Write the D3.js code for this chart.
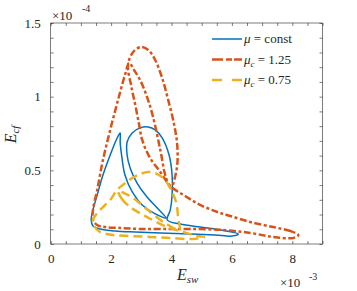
<!DOCTYPE html>
<html>
<head>
<meta charset="utf-8">
<script src="https://cdn.jsdelivr.net/npm/d3@7/dist/d3.min.js"></script>
<style>
	body { margin: 0; background: #fff; }
	svg, svg text { font-family: "Liberation Serif", "Times New Roman", "DejaVu Serif", serif; }
	svg text { fill: #262626; }
</style>
</head>
<body>
<svg id="loops" width="357" height="291" font-family="Liberation Serif, serif"></svg>
<script>
// E_sw in units of 1e-3, E_cf in units of 1e-4
var legendLabels = ["const", "1.25", "0.75"];

var blueEsw = [6.21, 5.62, 4.95, 4.29, 3.86, 3.96, 4.02, 4.02, 3.92, 3.69, 3.46, 3.23, 2.96, 2.70, 2.53, 2.53, 2.63, 2.86, 3.19, 3.53, 3.82, 3.46, 3.03, 2.70, 2.46, 2.36, 2.30, 2.30, 2.17, 1.97, 1.73, 1.54, 1.40, 1.34, 1.40, 1.64, 2.13, 2.80, 3.63, 4.62, 5.45, 6.01];
var blueEcf = [0.068, 0.095, 0.115, 0.136, 0.163, 0.231, 0.333, 0.468, 0.604, 0.720, 0.774, 0.794, 0.788, 0.754, 0.692, 0.604, 0.516, 0.414, 0.319, 0.244, 0.177, 0.204, 0.265, 0.353, 0.468, 0.584, 0.692, 0.754, 0.706, 0.604, 0.468, 0.333, 0.231, 0.163, 0.122, 0.102, 0.088, 0.081, 0.075, 0.068, 0.061, 0.054];

var redEsw = [8.20, 7.94, 7.37, 6.61, 5.95, 5.52, 4.95, 4.45, 3.96, 3.63, 3.29, 3.03, 2.93, 2.80, 2.66, 2.56, 2.73, 2.99, 3.23, 3.46, 3.69, 3.89, 4.09, 4.19, 4.19, 4.09, 3.99, 3.82, 3.63, 3.39, 3.19, 2.96, 2.76, 2.60, 2.46, 2.23, 1.97, 1.73, 1.54, 1.40, 1.40, 1.54, 1.80, 2.30, 2.96, 3.72, 4.62, 5.71, 6.61, 7.37, 8.04];
var redEcf = [0.061, 0.088, 0.115, 0.149, 0.190, 0.217, 0.265, 0.326, 0.394, 0.489, 0.584, 0.706, 0.808, 0.944, 1.079, 1.215, 1.303, 1.337, 1.317, 1.249, 1.127, 0.978, 0.808, 0.672, 0.536, 0.434, 0.380, 0.448, 0.638, 0.862, 0.998, 1.113, 1.181, 1.229, 1.147, 0.978, 0.774, 0.570, 0.367, 0.231, 0.163, 0.129, 0.115, 0.109, 0.102, 0.102, 0.102, 0.095, 0.075, 0.048, 0.041];

var yellowEsw = [2.23, 2.36, 2.63, 3.19, 3.86, 4.39, 4.85, 5.08, 4.72, 3.96, 3.29, 2.63, 2.07, 1.64, 1.44, 1.40, 1.54, 1.73, 1.97, 2.20, 2.43, 2.70, 2.96, 3.23, 3.53, 3.79, 3.99, 4.16, 4.22, 4.26, 3.89, 3.46, 3.06, 2.73, 2.43];
var yellowEcf = [0.360, 0.306, 0.251, 0.183, 0.115, 0.081, 0.054, 0.048, 0.034, 0.041, 0.048, 0.054, 0.061, 0.081, 0.122, 0.163, 0.210, 0.251, 0.299, 0.367, 0.407, 0.448, 0.475, 0.489, 0.475, 0.434, 0.367, 0.278, 0.177, 0.095, 0.129, 0.190, 0.258, 0.312, 0.346];

var xTickLabels = [0, 2, 4, 6, 8];
var yTickLabels = [0, 0.5, 1, 1.5];

var svg = d3.select("#loops"),
	margin = {top: 23, left: 50.7, bottom: 47, right: 34.5},
	width = +svg.attr("width"),
	height = +svg.attr("height"),
	serif = "Liberation Serif, Times New Roman, DejaVu Serif, serif";

svg.append("rect").attr("width", width).attr("height", height).attr("fill", "#fff");

var x = d3.scaleLinear()
	.domain([0, 9])
	.range([margin.left, width - margin.right]);

var y = d3.scaleLinear()
	.domain([0, 1.5])
	.range([height - margin.bottom, margin.top]);

var xTicks = d3.range(0, 19).map(i => i / 2),
	yTicks = d3.range(0, 16).map(i => i / 10);

function styleAxis(g) {
	g.attr("color", "#262626")
		.attr("font-size", 13)
		.attr("font-family", serif);
	g.select(".domain").remove();
	g.selectAll(".tick line").attr("stroke-width", 0.6);
	g.selectAll(".tick text").attr("font-family", serif);
}

svg.append("g")
	.attr("transform", `translate(0,${y(0)})`)
	.call(d3.axisBottom(x).tickValues(xTicks).tickSizeInner(-3).tickSizeOuter(0).tickPadding(10)
		.tickFormat(d => xTickLabels.includes(d) ? d : ""))
	.call(styleAxis);

svg.append("g")
	.attr("transform", `translate(0,${y(1.5)})`)
	.call(d3.axisTop(x).tickValues(xTicks).tickSizeInner(-3).tickSizeOuter(0).tickFormat(""))
	.call(styleAxis);

svg.append("g")
	.attr("transform", `translate(${x(0)},0)`)
	.call(d3.axisLeft(y).tickValues(yTicks).tickSizeInner(-3).tickSizeOuter(0).tickPadding(10)
		.tickFormat(d => yTickLabels.includes(d) ? d : ""))
	.call(styleAxis);

svg.append("g")
	.attr("transform", `translate(${x(9)},0)`)
	.call(d3.axisRight(y).tickValues(yTicks).tickSizeInner(-3).tickSizeOuter(0).tickFormat(""))
	.call(styleAxis);

svg.append("rect")
	.attr("x", x(0))
	.attr("y", y(1.5))
	.attr("width", x(9) - x(0))
	.attr("height", y(0) - y(1.5))
	.attr("fill", "none")
	.attr("stroke", "#262626")
	.attr("stroke-width", 0.6);

var series = [
	{key: "blue", esw: blueEsw, ecf: blueEcf, color: "#0072BD", width: 1.5, dash: null},
	{key: "red", esw: redEsw, ecf: redEcf, color: "#D95319", width: 2.5, dash: "7,2.5,3,2.5"},
	{key: "yellow", esw: yellowEsw, ecf: yellowEcf, color: "#EDB120", width: 2.5, dash: "9,5"}
];

var line = d3.line()
	.x(d => x(d[0]))
	.y(d => y(d[1]))
	.curve(d3.curveCatmullRomClosed.alpha(0.5));

svg.append("g")
	.selectAll("path")
	.data(series)
	.enter().append("path")
	.attr("d", d => line(d3.zip(d.esw, d.ecf)))
	.attr("fill", "none")
	.attr("stroke", d => d.color)
	.attr("stroke-width", d => d.width)
	.attr("stroke-dasharray", d => d.dash)
	.attr("stroke-linejoin", "round");

// legend (no box)
var legend = svg.append("g")
	.selectAll("g")
	.data(series)
	.enter().append("g")
	.attr("transform", (d, i) => `translate(212,${43 + i * 20.5})`);

legend.append("line")
	.attr("x1", 0).attr("x2", 30)
	.attr("y1", -4).attr("y2", -4)
	.attr("stroke", d => d.color)
	.attr("stroke-width", d => d.width)
	.attr("stroke-dasharray", (d, i) => i == 0 ? null : (i == 1 ? "11,3,6,2" : "10,10"));

legend.append("text")
	.attr("x", 32)
	.attr("font-size", 13)
	.attr("font-family", serif)
	.each(function(d, i) {
		var t = d3.select(this);
		t.append("tspan").attr("font-style", "italic").text("μ");
		if (i > 0) {
			t.append("tspan").attr("font-style", "italic").attr("font-size", 9).attr("dy", 3).text("c");
			t.append("tspan").attr("dy", -3).text(" = " + legendLabels[i]);
		} else {
			t.append("tspan").text(" = " + legendLabels[i]);
		}
	});

// exponent labels
var topExp = svg.append("text").attr("x", 52).attr("y", 19.5).attr("font-size", 13).attr("font-family", serif);
topExp.append("tspan").text("×10");
topExp.append("tspan").attr("x", 82).attr("y", 12).attr("font-size", 10).text("-4");

var botExp = svg.append("text").attr("x", 280).attr("y", 287).attr("font-size", 13).attr("font-family", serif);
botExp.append("tspan").text("×10");
botExp.append("tspan").attr("x", 309).attr("y", 280).attr("font-size", 10).text("-3");

// axis labels
var xl = svg.append("text")
	.attr("x", (x(0) + x(9)) / 2 + 1)
	.attr("y", 280)
	.attr("text-anchor", "middle")
	.attr("font-style", "italic")
	.attr("font-size", 16)
	.attr("font-family", serif);
xl.append("tspan").text("E");
xl.append("tspan").attr("font-size", 11).attr("dy", 3).text("sw");

var yl = svg.append("text")
	.attr("transform", `translate(16,${(y(0) + y(1.5)) / 2 + 1}) rotate(-90)`)
	.attr("text-anchor", "middle")
	.attr("font-style", "italic")
	.attr("font-size", 16)
	.attr("font-family", serif);
yl.append("tspan").text("E");
yl.append("tspan").attr("font-size", 11).attr("dy", 3).text("cf");
</script>
</body>
</html>
